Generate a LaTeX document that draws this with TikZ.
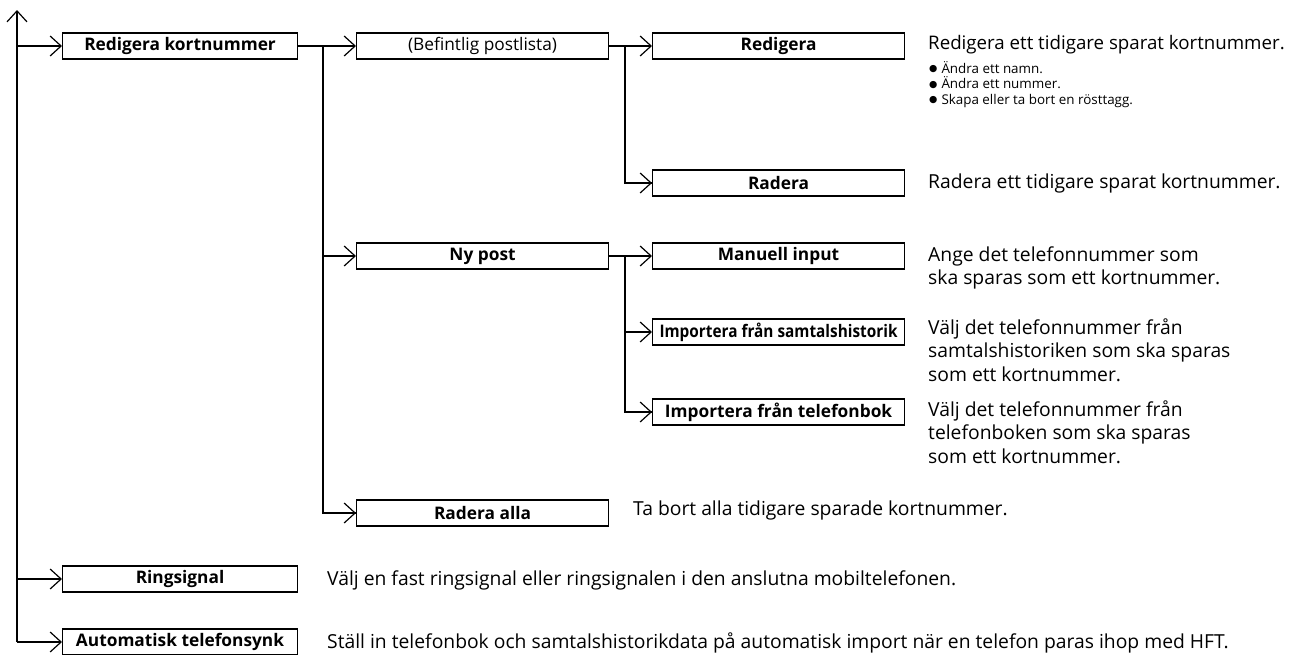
\documentclass[tikz,border=0pt]{standalone}
\usepackage{fontspec}
\setmainfont{Open Sans}
\newfontfamily\dvfont{DejaVu Sans}
\usetikzlibrary{arrows.meta}
\newcommand{\bul}{\raisebox{1.6pt}{\dvfont\fontsize{9.5}{10}\selectfont ●}\hspace{4pt}}
\tikzset{
  x=1pt,y=-1pt,
  box/.style={draw=black,line width=1.1pt,minimum height=26pt,inner sep=0pt,anchor=west,font=\fontsize{17.3}{20}\selectfont\bfseries},
  boxA/.style={box,minimum width=235pt},
  boxB/.style={box,minimum width=252pt},
  conn/.style={line width=2pt},
  arr/.style={conn,-{Straight Barb[length=11pt,width=20pt,line width=1.2pt]}},
  desc/.style={anchor=west,align=left,inner sep=0pt,font=\fontsize{19.3}{23.5}\selectfont},
  small/.style={anchor=north west,align=left,inner sep=0pt,font=\fontsize{13.4}{15.5}\selectfont},
}
\begin{document}
\begin{tikzpicture}
\useasboundingbox (0,0) rectangle (1290,654);
% boxes
\node[boxA] (rk) at (62,46) {Redigera kortnummer};
\node[boxB,font=\fontsize{17.3}{20}\selectfont] (bp) at (356,46) {(Befintlig postlista)};
\node[boxB] (red) at (652,46) {Redigera};
\node[boxB] (rad) at (652,183) {Radera};
\node[boxB] (ny) at (356,256) {Ny post};
\node[boxB] (man) at (652,256) {Manuell input};
\node[boxB] (ims) at (652,332) {\resizebox{238pt}{\height}{Importera från samtalshistorik}};
\node[boxB] (imt) at (652,412) {Importera från telefonbok};
\node[boxB] (ra) at (356,513) {Radera alla};
\node[boxA] (ring) at (62,579) {Ringsignal};
\node[boxA] (auto) at (62,642) {Automatisk telefonsynk};
% trunk
\coordinate (top) at (17,10);
\coordinate (bot) at (17,642);
\draw[arr] (bot) -- (top);
\foreach \n in {rk,ring,auto} \draw[arr] (top |- \n.west) -- (\n.west);
% level 2
\coordinate (b1) at (323,46);
\draw[conn] (rk.east) -- (b1) |- (ra.west);
\foreach \n in {bp,ny,ra} \draw[arr] (b1 |- \n.west) -- (\n.west);
% level 3
\coordinate (b2) at (625,46);
\draw[conn] (bp.east) -- (b2) |- (rad.west);
\foreach \n in {red,rad} \draw[arr] (b2 |- \n.west) -- (\n.west);
\coordinate (b3) at (625,256);
\draw[conn] (ny.east) -- (b3) |- (imt.west);
\foreach \n in {man,ims,imt} \draw[arr] (b3 |- \n.west) -- (\n.west);
% descriptions
\node[desc,font=\fontsize{18.7}{23.5}\selectfont] (d1) at (928,45) {Redigera ett tidigare sparat kortnummer.};
\node[small] (d1b) at (929,61) {\bul Ändra ett namn.\\\bul Ändra ett nummer.\\\bul Skapa eller ta bort en rösttagg.};
\node[desc] (d2) at (928,183) {Radera ett tidigare sparat kortnummer.};
\node[desc] (d3) at (928,268) {Ange det telefonnummer som\\ska sparas som ett kortnummer.};
\node[desc] (d4) at (928,350) {Välj det telefonnummer från\\samtalshistoriken som ska sparas\\som ett kortnummer.};
\node[desc] (d5) at (928,432) {Välj det telefonnummer från\\telefonboken som ska sparas\\som ett kortnummer.};
\node[desc] (d6) at (633,510) {Ta bort alla tidigare sparade kortnummer.};
\node[desc] (d7) at (327,580) {Välj en fast ringsignal eller ringsignalen i den anslutna mobiltelefonen.};
\node[desc] (d8) at (327,643) {Ställ in telefonbok och samtalshistorikdata på automatisk import när en telefon paras ihop med HFT.};
\end{tikzpicture}
\end{document}
